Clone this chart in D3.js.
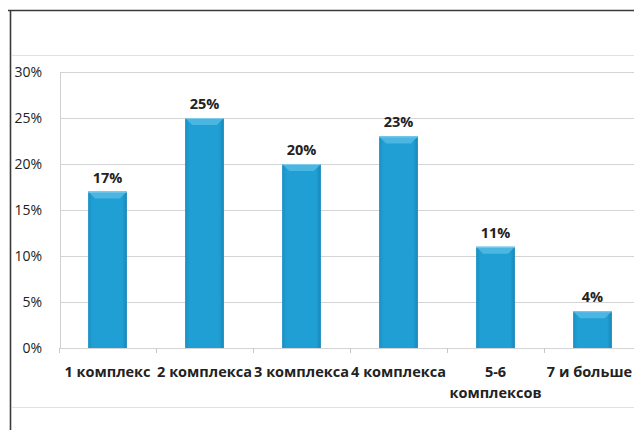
<!DOCTYPE html>
<html>
<head>
<meta charset="utf-8">
<script src="https://cdn.jsdelivr.net/npm/d3@7/dist/d3.min.js"></script>
<style>
  html, body { margin: 0; padding: 0; background: #fff; }
  svg { display: block; }
</style>
</head>
<body>
<script>
// Share of respondents by number of complexes
const categories = ["1 комплекс", "2 комплекса", "3 комплекса", "4 комплекса", "5-6|комплексов", "7 и больше"];
const values = [17, 25, 20, 23, 11, 4];
const yTicks = [0, 5, 10, 15, 20, 25, 30];

const W = 634, H = 430;
const svg = d3.select("body").append("svg").attr("width", W).attr("height", H);

const font = "'Open Sans', 'Noto Sans', sans-serif";

// frame lines
svg.append("line").attr("x1", 8).attr("x2", W).attr("y1", 10.5).attr("y2", 10.5)
  .attr("stroke", "#3a3a3a").attr("stroke-width", 1.6);
svg.append("line").attr("x1", 10.5).attr("x2", 10.5).attr("y1", 10).attr("y2", H)
  .attr("stroke", "#3a3a3a").attr("stroke-width", 1.6);
svg.append("line").attr("x1", 12).attr("x2", W).attr("y1", 55.5).attr("y2", 55.5)
  .attr("stroke", "#e2e2e2").attr("stroke-width", 1);
svg.append("line").attr("x1", 12).attr("x2", W).attr("y1", 407.5).attr("y2", 407.5)
  .attr("stroke", "#e2e2e2").attr("stroke-width", 1);

const x = d3.scaleBand().domain(categories).range([59, 641]).paddingInner(0.6).paddingOuter(0.3);
const y = d3.scaleLinear().domain([0, 30]).range([348, 72]);

// gridlines
svg.append("g").selectAll("line").data(yTicks).join("line")
  .attr("x1", 60).attr("x2", W)
  .attr("y1", d => Math.round(y(d)) + 0.5).attr("y2", d => Math.round(y(d)) + 0.5)
  .attr("stroke", "#d4d4d4").attr("stroke-width", 1);

// value axis line
svg.append("line").attr("x1", 60.5).attr("x2", 60.5).attr("y1", y(30)).attr("y2", y(0))
  .attr("stroke", "#d0d0d0");

// y tick labels
svg.append("g").selectAll("text").data(yTicks).join("text")
  .attr("x", 42).attr("y", d => y(d)).attr("dy", "0.35em")
  .attr("text-anchor", "end")
  .attr("font-family", font).attr("font-size", 14).attr("fill", "#222")
  .text(d => d + "%");

// category tick marks at band boundaries
const step = x.step();
const bounds = d3.range(categories.length + 1).map(i => 59 + i * step);
svg.append("g").selectAll("line").data(bounds).join("line")
  .attr("x1", d => Math.round(d) + 0.5).attr("x2", d => Math.round(d) + 0.5)
  .attr("y1", y(0)).attr("y2", y(0) + 5)
  .attr("stroke", "#c8c8c8");

// bar fill
const defs = svg.append("defs");
const grad = defs.append("linearGradient").attr("id", "barGrad").attr("x1", 0).attr("x2", 1);
grad.append("stop").attr("offset", "0%").attr("stop-color", "#1a90c3");
grad.append("stop").attr("offset", "12%").attr("stop-color", "#1f9fd3");
grad.append("stop").attr("offset", "88%").attr("stop-color", "#1f9fd3");
grad.append("stop").attr("offset", "100%").attr("stop-color", "#1786b8");

const bars = svg.append("g").selectAll("g").data(categories.map((c, i) => ({ c, v: values[i] }))).join("g");

bars.append("rect")
  .attr("x", d => x(d.c)).attr("width", x.bandwidth())
  .attr("y", d => y(d.v)).attr("height", d => y(0) - y(d.v))
  .attr("fill", "url(#barGrad)");

// bevel highlight along top edge
const bev = 7;
bars.append("path")
  .attr("d", d => {
    const x0 = x(d.c), x1 = x0 + x.bandwidth(), t = y(d.v);
    return `M${x0},${t}L${x1},${t}L${x1 - bev},${t + bev}L${x0 + bev},${t + bev}Z`;
  })
  .attr("fill", "#4cb6e2");
bars.append("line")
  .attr("x1", d => x(d.c)).attr("x2", d => x(d.c) + x.bandwidth())
  .attr("y1", d => y(d.v) + 0.5).attr("y2", d => y(d.v) + 0.5)
  .attr("stroke", "#80cbec").attr("stroke-width", 1);

// value labels
bars.append("text")
  .attr("x", d => x(d.c) + x.bandwidth() / 2).attr("y", d => y(d.v) - 9)
  .attr("text-anchor", "middle")
  .attr("font-family", font).attr("font-size", 14.5).attr("font-weight", "bold").attr("fill", "#222")
  .text(d => d.v + "%");

// category labels (| marks a line break)
const cat = svg.append("g").selectAll("text").data(categories).join("text")
  .attr("x", d => x(d) + x.bandwidth() / 2).attr("y", 377)
  .attr("text-anchor", "middle")
  .attr("font-family", font).attr("font-size", 14.5).attr("font-weight", "bold").attr("fill", "#222");
cat.selectAll("tspan").data(d => d.split("|")).join("tspan")
  .attr("x", function () { return d3.select(this.parentNode).attr("x"); })
  .attr("dy", (d, i) => i === 0 ? 0 : 21)
  .text(d => d);

// keep labels inside the right edge
cat.each(function () {
  const b = this.getBBox();
  const over = b.x + b.width - (W - 2);
  if (over > 0) {
    const nx = +d3.select(this).attr("x") - over;
    d3.select(this).attr("x", nx).selectAll("tspan").attr("x", nx);
  }
});
</script>
</body>
</html>
